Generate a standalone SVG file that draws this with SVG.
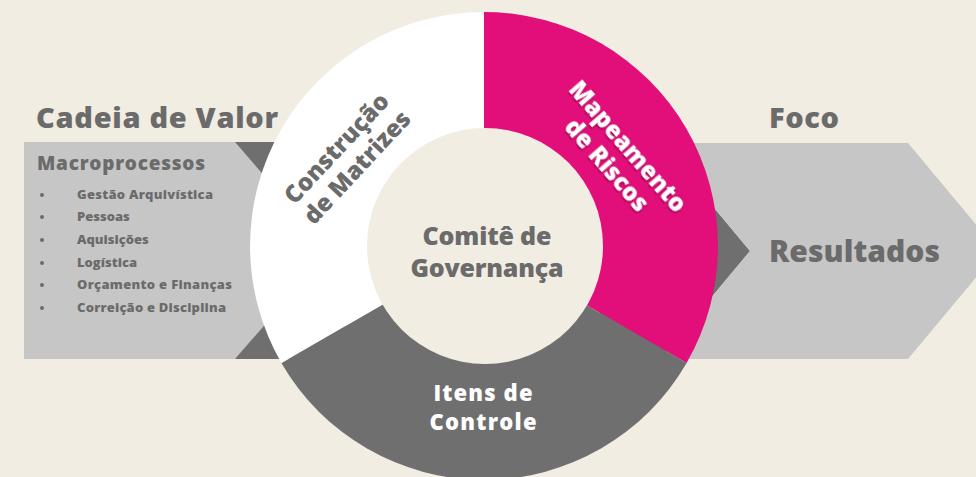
<svg xmlns="http://www.w3.org/2000/svg" width="976" height="477" viewBox="0 0 976 477">
  <defs>
    <filter id="sh" x="-20%" y="-20%" width="140%" height="140%">
      <feDropShadow dx="1" dy="1.5" stdDeviation="0.8" flood-color="#000" flood-opacity="0.35"/>
    </filter>
    <style>
      .t { font-family: "Open Sans", "Liberation Sans", sans-serif; font-weight: 800; fill: #6b6b6b; }
      .w { fill: #ffffff; }
      .title { font-size: 29px; }
      .item { font-size: 13px; }
      .seg { font-size: 24px; }
      .mid { text-anchor: middle; }
      .light { fill: #c6c6c6; }
      .dark { fill: #6f6f6f; }
    </style>
  </defs>
  <rect width="976" height="477" fill="#f1ede2"/>

  <g id="connectors">
    <polygon class="dark" points="235,142 345,142 345,359 235,359"/>
    <polygon class="dark" points="600,143 660,143 750,251 660,359 600,359"/>
  </g>

  <g id="cadeia-valor">
    <polygon class="light" points="24,142 235,142 329,251 235,359 24,359"/>
    <text class="t title" x="36" y="128" textLength="242">Cadeia de Valor</text>
    <text class="t" x="37" y="170" font-size="19" textLength="168">Macroprocessos</text>
    <g fill="#6b6b6b">
      <circle cx="42" cy="195" r="2"/>
      <circle cx="42" cy="217" r="2"/>
      <circle cx="42" cy="240" r="2"/>
      <circle cx="42" cy="263" r="2"/>
      <circle cx="42" cy="285" r="2"/>
      <circle cx="42" cy="308" r="2"/>
    </g>
    <text class="t item" x="77" y="199" textLength="136">Gestão Arquivística</text>
    <text class="t item" x="77" y="221">Pessoas</text>
    <text class="t item" x="77" y="244">Aquisições</text>
    <text class="t item" x="77" y="267">Logística</text>
    <text class="t item" x="77" y="289" textLength="155">Orçamento e Finanças</text>
    <text class="t item" x="77" y="312" textLength="149">Correição e Disciplina</text>
  </g>

  <g id="foco-resultados">
    <polygon class="light" points="660,143 908,143 998,251 908,359 660,359 750,251"/>
    <text class="t title" x="769" y="128" textLength="70">Foco</text>
    <text class="t" x="769" y="262" font-size="30" textLength="171">Resultados</text>
  </g>

  <g id="mapeamento-riscos">
    <path d="M484,246 L484,12 A234,234 0 0 1 686.6,363 Z" fill="#e20f7a"/>
    <g transform="translate(617,156) rotate(49)" filter="url(#sh)">
      <text class="t w seg mid" x="0" y="-6">Mapeamento</text>
      <text class="t w seg mid" x="0" y="22">de Riscos</text>
    </g>
  </g>

  <g id="itens-controle">
    <path d="M484,246 L686.6,363 A234,234 0 0 1 281.4,363 Z" fill="#6f6f6f"/>
    <text class="t w mid" x="483" y="401" font-size="22" textLength="99">Itens de</text>
    <text class="t w mid" x="483" y="430" font-size="22" textLength="107">Controle</text>
  </g>

  <g id="construcao-matrizes">
    <path d="M484,246 L281.4,363 A234,234 0 0 1 484,12 Z" fill="#ffffff"/>
    <g transform="translate(347,158) rotate(-47)">
      <text class="t seg mid" x="0" y="-6">Construção</text>
      <text class="t seg mid" x="0" y="22">de Matrizes</text>
    </g>
  </g>

  <g id="comite-governanca">
    <circle cx="485" cy="246" r="118" fill="#f1ede2"/>
    <text class="t mid" x="487" y="245" font-size="25" textLength="129">Comitê de</text>
    <text class="t mid" x="487" y="277" font-size="25" textLength="153">Governança</text>
  </g>
</svg>
